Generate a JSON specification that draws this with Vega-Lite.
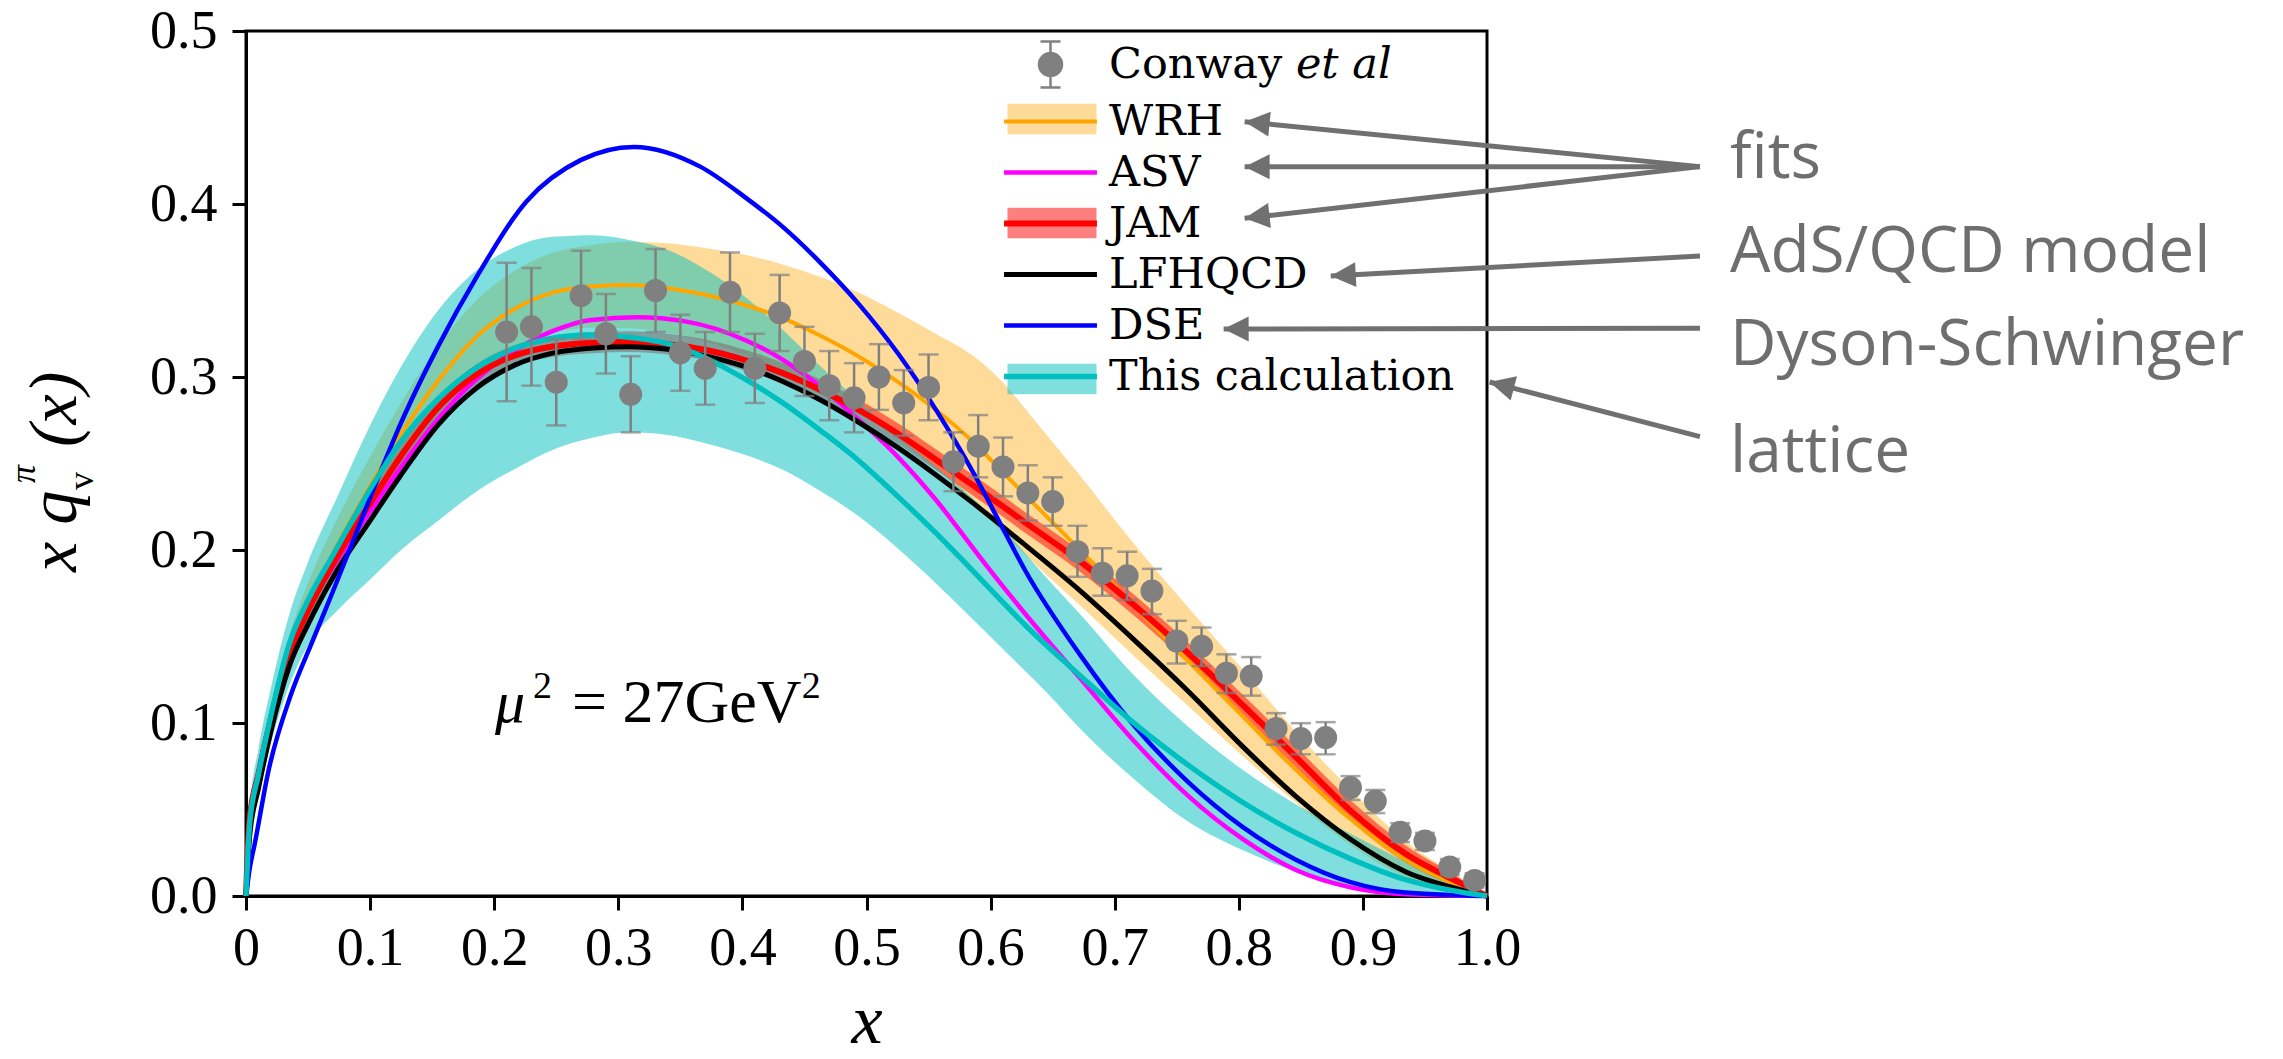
{
  "$schema": "https://vega.github.io/schema/vega-lite/v6.json",
  "width": 1241,
  "height": 865,
  "autosize": {"type": "none"},
  "padding": {"left": 246, "top": 31, "right": 796, "bottom": 163},
  "background": "white",
  "config": {
    "view": {"stroke": "black", "strokeWidth": 3},
    "axis": {"grid": false, "domainColor": "black", "domainWidth": 3, "tickColor": "black", "tickWidth": 3, "tickSize": 14, "labelFont": "Liberation Serif", "labelFontSize": 54, "labelColor": "black", "labelFlush": false, "labelOverlap": false}
  },
  "datasets": {
    "curves": [
      {"series":"WRH","x":0,"y":0},{"series":"WRH","x":0.003,"y":0.04},{"series":"WRH","x":0.01,"y":0.066},{"series":"WRH","x":0.02,"y":0.1},{"series":"WRH","x":0.035,"y":0.14},{"series":"WRH","x":0.05,"y":0.168},{"series":"WRH","x":0.07,"y":0.198},{"series":"WRH","x":0.1,"y":0.237},{"series":"WRH","x":0.124,"y":0.266},{"series":"WRH","x":0.155,"y":0.298},{"series":"WRH","x":0.186,"y":0.3235},{"series":"WRH","x":0.217,"y":0.3396},{"series":"WRH","x":0.247,"y":0.3488},{"series":"WRH","x":0.28,"y":0.3525},{"series":"WRH","x":0.309,"y":0.3532},{"series":"WRH","x":0.34,"y":0.3513},{"series":"WRH","x":0.371,"y":0.3474},{"series":"WRH","x":0.402,"y":0.3416},{"series":"WRH","x":0.433,"y":0.3339},{"series":"WRH","x":0.463,"y":0.3238},{"series":"WRH","x":0.494,"y":0.3117},{"series":"WRH","x":0.525,"y":0.2973},{"series":"WRH","x":0.556,"y":0.2809},{"series":"WRH","x":0.587,"y":0.2617},{"series":"WRH","x":0.608,"y":0.2463},{"series":"WRH","x":0.64,"y":0.223},{"series":"WRH","x":0.672,"y":0.2},{"series":"WRH","x":0.715,"y":0.168},{"series":"WRH","x":0.759,"y":0.136},{"series":"WRH","x":0.803,"y":0.104},{"series":"WRH","x":0.846,"y":0.073},{"series":"WRH","x":0.89,"y":0.0445},{"series":"WRH","x":0.934,"y":0.021},{"series":"WRH","x":0.977,"y":0.006},{"series":"WRH","x":1,"y":0},
      {"series":"ASV","x":0,"y":0},{"series":"ASV","x":0.003,"y":0.045},{"series":"ASV","x":0.01,"y":0.072},{"series":"ASV","x":0.02,"y":0.104},{"series":"ASV","x":0.035,"y":0.142},{"series":"ASV","x":0.05,"y":0.166},{"series":"ASV","x":0.07,"y":0.19},{"series":"ASV","x":0.1,"y":0.222},{"series":"ASV","x":0.124,"y":0.247},{"series":"ASV","x":0.155,"y":0.276},{"series":"ASV","x":0.186,"y":0.299},{"series":"ASV","x":0.217,"y":0.3155},{"series":"ASV","x":0.247,"y":0.3265},{"series":"ASV","x":0.278,"y":0.333},{"series":"ASV","x":0.315,"y":0.3345},{"series":"ASV","x":0.355,"y":0.332},{"series":"ASV","x":0.402,"y":0.3214},{"series":"ASV","x":0.433,"y":0.3098},{"series":"ASV","x":0.463,"y":0.2944},{"series":"ASV","x":0.494,"y":0.2751},{"series":"ASV","x":0.525,"y":0.254},{"series":"ASV","x":0.556,"y":0.2289},{"series":"ASV","x":0.587,"y":0.2},{"series":"ASV","x":0.608,"y":0.1807},{"series":"ASV","x":0.628,"y":0.163},{"series":"ASV","x":0.672,"y":0.126},{"series":"ASV","x":0.715,"y":0.09},{"series":"ASV","x":0.759,"y":0.058},{"series":"ASV","x":0.803,"y":0.033},{"series":"ASV","x":0.846,"y":0.015},{"series":"ASV","x":0.89,"y":0.005},{"series":"ASV","x":0.934,"y":0.001},{"series":"ASV","x":1,"y":0},
      {"series":"JAM","x":0,"y":0},{"series":"JAM","x":0.003,"y":0.045},{"series":"JAM","x":0.01,"y":0.07},{"series":"JAM","x":0.02,"y":0.102},{"series":"JAM","x":0.035,"y":0.14},{"series":"JAM","x":0.05,"y":0.165},{"series":"JAM","x":0.07,"y":0.192},{"series":"JAM","x":0.1,"y":0.227},{"series":"JAM","x":0.124,"y":0.2535},{"series":"JAM","x":0.155,"y":0.2825},{"series":"JAM","x":0.186,"y":0.3015},{"series":"JAM","x":0.217,"y":0.3125},{"series":"JAM","x":0.247,"y":0.3176},{"series":"JAM","x":0.28,"y":0.3198},{"series":"JAM","x":0.309,"y":0.3204},{"series":"JAM","x":0.34,"y":0.319},{"series":"JAM","x":0.371,"y":0.3156},{"series":"JAM","x":0.402,"y":0.3098},{"series":"JAM","x":0.433,"y":0.3021},{"series":"JAM","x":0.463,"y":0.2925},{"series":"JAM","x":0.494,"y":0.2809},{"series":"JAM","x":0.525,"y":0.2674},{"series":"JAM","x":0.556,"y":0.2522},{"series":"JAM","x":0.587,"y":0.2368},{"series":"JAM","x":0.608,"y":0.2262},{"series":"JAM","x":0.628,"y":0.2158},{"series":"JAM","x":0.672,"y":0.1935},{"series":"JAM","x":0.715,"y":0.1685},{"series":"JAM","x":0.759,"y":0.1405},{"series":"JAM","x":0.803,"y":0.1105},{"series":"JAM","x":0.846,"y":0.0803},{"series":"JAM","x":0.89,"y":0.0493},{"series":"JAM","x":0.934,"y":0.0245},{"series":"JAM","x":0.977,"y":0.008},{"series":"JAM","x":1,"y":0},
      {"series":"LFHQCD","x":0,"y":0},{"series":"LFHQCD","x":0.003,"y":0.035},{"series":"LFHQCD","x":0.01,"y":0.062},{"series":"LFHQCD","x":0.02,"y":0.095},{"series":"LFHQCD","x":0.035,"y":0.133},{"series":"LFHQCD","x":0.05,"y":0.157},{"series":"LFHQCD","x":0.07,"y":0.184},{"series":"LFHQCD","x":0.1,"y":0.217},{"series":"LFHQCD","x":0.124,"y":0.2425},{"series":"LFHQCD","x":0.155,"y":0.2725},{"series":"LFHQCD","x":0.186,"y":0.2938},{"series":"LFHQCD","x":0.217,"y":0.307},{"series":"LFHQCD","x":0.247,"y":0.3138},{"series":"LFHQCD","x":0.28,"y":0.3168},{"series":"LFHQCD","x":0.309,"y":0.3175},{"series":"LFHQCD","x":0.34,"y":0.316},{"series":"LFHQCD","x":0.371,"y":0.3121},{"series":"LFHQCD","x":0.402,"y":0.306},{"series":"LFHQCD","x":0.433,"y":0.2973},{"series":"LFHQCD","x":0.463,"y":0.2867},{"series":"LFHQCD","x":0.494,"y":0.2737},{"series":"LFHQCD","x":0.525,"y":0.2593},{"series":"LFHQCD","x":0.556,"y":0.2434},{"series":"LFHQCD","x":0.587,"y":0.2265},{"series":"LFHQCD","x":0.608,"y":0.2145},{"series":"LFHQCD","x":0.628,"y":0.2028},{"series":"LFHQCD","x":0.672,"y":0.1765},{"series":"LFHQCD","x":0.715,"y":0.1485},{"series":"LFHQCD","x":0.759,"y":0.1185},{"series":"LFHQCD","x":0.803,"y":0.0865},{"series":"LFHQCD","x":0.846,"y":0.0576},{"series":"LFHQCD","x":0.89,"y":0.0328},{"series":"LFHQCD","x":0.934,"y":0.0142},{"series":"LFHQCD","x":0.977,"y":0.004},{"series":"LFHQCD","x":1,"y":0},
      {"series":"DSE","x":0,"y":0},{"series":"DSE","x":0.003,"y":0.016},{"series":"DSE","x":0.007,"y":0.03},{"series":"DSE","x":0.018,"y":0.072},{"series":"DSE","x":0.036,"y":0.116},{"series":"DSE","x":0.054,"y":0.148},{"series":"DSE","x":0.07,"y":0.176},{"series":"DSE","x":0.09,"y":0.212},{"series":"DSE","x":0.11,"y":0.248},{"series":"DSE","x":0.124,"y":0.272},{"series":"DSE","x":0.155,"y":0.318},{"series":"DSE","x":0.186,"y":0.358},{"series":"DSE","x":0.226,"y":0.4015},{"series":"DSE","x":0.27,"y":0.4255},{"series":"DSE","x":0.3125,"y":0.433},{"series":"DSE","x":0.366,"y":0.4216},{"series":"DSE","x":0.402,"y":0.404},{"series":"DSE","x":0.433,"y":0.3865},{"series":"DSE","x":0.463,"y":0.366},{"series":"DSE","x":0.494,"y":0.342},{"series":"DSE","x":0.525,"y":0.314},{"series":"DSE","x":0.556,"y":0.281},{"series":"DSE","x":0.587,"y":0.2435},{"series":"DSE","x":0.608,"y":0.215},{"series":"DSE","x":0.628,"y":0.188},{"series":"DSE","x":0.672,"y":0.1395},{"series":"DSE","x":0.715,"y":0.099},{"series":"DSE","x":0.759,"y":0.066},{"series":"DSE","x":0.803,"y":0.04},{"series":"DSE","x":0.846,"y":0.021},{"series":"DSE","x":0.89,"y":0.008},{"series":"DSE","x":0.934,"y":0.002},{"series":"DSE","x":1,"y":0},
      {"series":"This calculation","x":0,"y":0},{"series":"This calculation","x":0.003,"y":0.042},{"series":"This calculation","x":0.01,"y":0.07},{"series":"This calculation","x":0.02,"y":0.104},{"series":"This calculation","x":0.035,"y":0.146},{"series":"This calculation","x":0.05,"y":0.171},{"series":"This calculation","x":0.07,"y":0.197},{"series":"This calculation","x":0.1,"y":0.235},{"series":"This calculation","x":0.124,"y":0.262},{"series":"This calculation","x":0.155,"y":0.2875},{"series":"This calculation","x":0.186,"y":0.3055},{"series":"This calculation","x":0.217,"y":0.3168},{"series":"This calculation","x":0.245,"y":0.3222},{"series":"This calculation","x":0.275,"y":0.3243},{"series":"This calculation","x":0.305,"y":0.3232},{"series":"This calculation","x":0.34,"y":0.3192},{"series":"This calculation","x":0.371,"y":0.3108},{"series":"This calculation","x":0.402,"y":0.2988},{"series":"This calculation","x":0.433,"y":0.2848},{"series":"This calculation","x":0.463,"y":0.269},{"series":"This calculation","x":0.494,"y":0.2515},{"series":"This calculation","x":0.52,"y":0.2345},{"series":"This calculation","x":0.556,"y":0.2097},{"series":"This calculation","x":0.584,"y":0.1892},{"series":"This calculation","x":0.608,"y":0.1712},{"series":"This calculation","x":0.628,"y":0.1565},{"series":"This calculation","x":0.672,"y":0.1275},{"series":"This calculation","x":0.715,"y":0.1002},{"series":"This calculation","x":0.759,"y":0.0758},{"series":"This calculation","x":0.803,"y":0.0542},{"series":"This calculation","x":0.846,"y":0.0365},{"series":"This calculation","x":0.89,"y":0.0215},{"series":"This calculation","x":0.934,"y":0.0095},{"series":"This calculation","x":0.977,"y":0.0025},{"series":"This calculation","x":1,"y":0}
    ],
    "bands": [
      {"band":"WRH band","x":0,"lo":0,"hi":0},{"band":"WRH band","x":0.003,"lo":0.036,"hi":0.044},{"band":"WRH band","x":0.01,"lo":0.059,"hi":0.073},{"band":"WRH band","x":0.02,"lo":0.091,"hi":0.109},{"band":"WRH band","x":0.035,"lo":0.129,"hi":0.151},{"band":"WRH band","x":0.05,"lo":0.155,"hi":0.181},{"band":"WRH band","x":0.07,"lo":0.183,"hi":0.213},{"band":"WRH band","x":0.1,"lo":0.22,"hi":0.254},{"band":"WRH band","x":0.124,"lo":0.248,"hi":0.284},{"band":"WRH band","x":0.155,"lo":0.278,"hi":0.318},{"band":"WRH band","x":0.186,"lo":0.3025,"hi":0.3445},{"band":"WRH band","x":0.217,"lo":0.3176,"hi":0.3616},{"band":"WRH band","x":0.247,"lo":0.3258,"hi":0.3718},{"band":"WRH band","x":0.28,"lo":0.3285,"hi":0.3765},{"band":"WRH band","x":0.309,"lo":0.3282,"hi":0.3782},{"band":"WRH band","x":0.34,"lo":0.3253,"hi":0.3773},{"band":"WRH band","x":0.371,"lo":0.3204,"hi":0.3744},{"band":"WRH band","x":0.402,"lo":0.3126,"hi":0.3706},{"band":"WRH band","x":0.433,"lo":0.3039,"hi":0.3649},{"band":"WRH band","x":0.463,"lo":0.2928,"hi":0.3578},{"band":"WRH band","x":0.494,"lo":0.2797,"hi":0.3487},{"band":"WRH band","x":0.525,"lo":0.2643,"hi":0.3373},{"band":"WRH band","x":0.556,"lo":0.2469,"hi":0.3249},{"band":"WRH band","x":0.587,"lo":0.2267,"hi":0.3117},{"band":"WRH band","x":0.608,"lo":0.2113,"hi":0.2983},{"band":"WRH band","x":0.64,"lo":0.189,"hi":0.271},{"band":"WRH band","x":0.672,"lo":0.168,"hi":0.243},{"band":"WRH band","x":0.715,"lo":0.139,"hi":0.204},{"band":"WRH band","x":0.759,"lo":0.11,"hi":0.167},{"band":"WRH band","x":0.803,"lo":0.081,"hi":0.131},{"band":"WRH band","x":0.846,"lo":0.054,"hi":0.095},{"band":"WRH band","x":0.89,"lo":0.0295,"hi":0.0615},{"band":"WRH band","x":0.934,"lo":0.011,"hi":0.032},{"band":"WRH band","x":0.977,"lo":0.001,"hi":0.011},{"band":"WRH band","x":1,"lo":0,"hi":0},
      {"band":"JAM band","x":0,"lo":0,"hi":0},{"band":"JAM band","x":0.003,"lo":0.042,"hi":0.048},{"band":"JAM band","x":0.01,"lo":0.065,"hi":0.075},{"band":"JAM band","x":0.02,"lo":0.096,"hi":0.108},{"band":"JAM band","x":0.035,"lo":0.134,"hi":0.146},{"band":"JAM band","x":0.05,"lo":0.159,"hi":0.171},{"band":"JAM band","x":0.07,"lo":0.186,"hi":0.198},{"band":"JAM band","x":0.1,"lo":0.221,"hi":0.233},{"band":"JAM band","x":0.124,"lo":0.2475,"hi":0.2595},{"band":"JAM band","x":0.155,"lo":0.2765,"hi":0.2885},{"band":"JAM band","x":0.186,"lo":0.2955,"hi":0.3075},{"band":"JAM band","x":0.217,"lo":0.3065,"hi":0.3185},{"band":"JAM band","x":0.247,"lo":0.3116,"hi":0.3236},{"band":"JAM band","x":0.28,"lo":0.3138,"hi":0.3258},{"band":"JAM band","x":0.309,"lo":0.3144,"hi":0.3264},{"band":"JAM band","x":0.34,"lo":0.313,"hi":0.325},{"band":"JAM band","x":0.371,"lo":0.3096,"hi":0.3216},{"band":"JAM band","x":0.402,"lo":0.3038,"hi":0.3158},{"band":"JAM band","x":0.433,"lo":0.2961,"hi":0.3081},{"band":"JAM band","x":0.463,"lo":0.2865,"hi":0.2985},{"band":"JAM band","x":0.494,"lo":0.2749,"hi":0.2869},{"band":"JAM band","x":0.525,"lo":0.2614,"hi":0.2734},{"band":"JAM band","x":0.556,"lo":0.2462,"hi":0.2582},{"band":"JAM band","x":0.587,"lo":0.2308,"hi":0.2428},{"band":"JAM band","x":0.608,"lo":0.2202,"hi":0.2322},{"band":"JAM band","x":0.628,"lo":0.2098,"hi":0.2218},{"band":"JAM band","x":0.672,"lo":0.1875,"hi":0.1995},{"band":"JAM band","x":0.715,"lo":0.1625,"hi":0.1745},{"band":"JAM band","x":0.759,"lo":0.1345,"hi":0.1465},{"band":"JAM band","x":0.803,"lo":0.1045,"hi":0.1165},{"band":"JAM band","x":0.846,"lo":0.0743,"hi":0.0863},{"band":"JAM band","x":0.89,"lo":0.0433,"hi":0.0553},{"band":"JAM band","x":0.934,"lo":0.0195,"hi":0.0295},{"band":"JAM band","x":0.977,"lo":0.005,"hi":0.011},{"band":"JAM band","x":1,"lo":0,"hi":0},
      {"band":"This calculation band","x":0,"lo":0,"hi":0},{"band":"This calculation band","x":0.003,"lo":0.035,"hi":0.05},{"band":"This calculation band","x":0.01,"lo":0.058,"hi":0.085},{"band":"This calculation band","x":0.02,"lo":0.088,"hi":0.12},{"band":"This calculation band","x":0.035,"lo":0.122,"hi":0.163},{"band":"This calculation band","x":0.05,"lo":0.145,"hi":0.193},{"band":"This calculation band","x":0.075,"lo":0.166,"hi":0.233},{"band":"This calculation band","x":0.1,"lo":0.183,"hi":0.272},{"band":"This calculation band","x":0.125,"lo":0.2,"hi":0.306},{"band":"This calculation band","x":0.155,"lo":0.217,"hi":0.3387},{"band":"This calculation band","x":0.186,"lo":0.234,"hi":0.3618},{"band":"This calculation band","x":0.217,"lo":0.247,"hi":0.3753},{"band":"This calculation band","x":0.247,"lo":0.2578,"hi":0.381},{"band":"This calculation band","x":0.28,"lo":0.265,"hi":0.382},{"band":"This calculation band","x":0.309,"lo":0.268,"hi":0.3792},{"band":"This calculation band","x":0.34,"lo":0.2665,"hi":0.3734},{"band":"This calculation band","x":0.371,"lo":0.2616,"hi":0.3618},{"band":"This calculation band","x":0.402,"lo":0.255,"hi":0.3464},{"band":"This calculation band","x":0.433,"lo":0.2462,"hi":0.327},{"band":"This calculation band","x":0.463,"lo":0.234,"hi":0.306},{"band":"This calculation band","x":0.494,"lo":0.2193,"hi":0.286},{"band":"This calculation band","x":0.525,"lo":0.201,"hi":0.266},{"band":"This calculation band","x":0.556,"lo":0.1807,"hi":0.248},{"band":"This calculation band","x":0.587,"lo":0.159,"hi":0.229},{"band":"This calculation band","x":0.608,"lo":0.1441,"hi":0.214},{"band":"This calculation band","x":0.65,"lo":0.114,"hi":0.18},{"band":"This calculation band","x":0.672,"lo":0.0968,"hi":0.163},{"band":"This calculation band","x":0.715,"lo":0.0679,"hi":0.128},{"band":"This calculation band","x":0.759,"lo":0.0431,"hi":0.098},{"band":"This calculation band","x":0.803,"lo":0.0266,"hi":0.073},{"band":"This calculation band","x":0.846,"lo":0.0142,"hi":0.053},{"band":"This calculation band","x":0.89,"lo":0.006,"hi":0.036},{"band":"This calculation band","x":0.934,"lo":0.002,"hi":0.02},{"band":"This calculation band","x":0.977,"lo":0.0003,"hi":0.005},{"band":"This calculation band","x":1,"lo":0,"hi":0}
    ],
    "conway": [
      {"x":0.21,"y":0.326,"lo":0.286,"hi":0.366},{"x":0.23,"y":0.329,"lo":0.295,"hi":0.363},{"x":0.25,"y":0.297,"lo":0.272,"hi":0.322},{"x":0.27,"y":0.347,"lo":0.322,"hi":0.373},{"x":0.29,"y":0.325,"lo":0.302,"hi":0.348},{"x":0.31,"y":0.29,"lo":0.268,"hi":0.312},{"x":0.33,"y":0.35,"lo":0.326,"hi":0.374},{"x":0.35,"y":0.314,"lo":0.292,"hi":0.336},{"x":0.37,"y":0.305,"lo":0.284,"hi":0.326},{"x":0.39,"y":0.349,"lo":0.326,"hi":0.372},{"x":0.41,"y":0.305,"lo":0.285,"hi":0.325},{"x":0.43,"y":0.337,"lo":0.315,"hi":0.359},{"x":0.45,"y":0.309,"lo":0.289,"hi":0.329},{"x":0.47,"y":0.295,"lo":0.275,"hi":0.315},{"x":0.49,"y":0.288,"lo":0.268,"hi":0.308},{"x":0.51,"y":0.3,"lo":0.281,"hi":0.319},{"x":0.53,"y":0.285,"lo":0.266,"hi":0.304},{"x":0.55,"y":0.294,"lo":0.275,"hi":0.313},{"x":0.57,"y":0.251,"lo":0.234,"hi":0.268},{"x":0.59,"y":0.26,"lo":0.242,"hi":0.278},{"x":0.61,"y":0.248,"lo":0.231,"hi":0.265},{"x":0.63,"y":0.233,"lo":0.217,"hi":0.249},{"x":0.65,"y":0.228,"lo":0.214,"hi":0.242},{"x":0.67,"y":0.199,"lo":0.1845,"hi":0.214},{"x":0.69,"y":0.1866,"lo":0.1736,"hi":0.201},{"x":0.71,"y":0.1851,"lo":0.1711,"hi":0.199},{"x":0.73,"y":0.1763,"lo":0.1629,"hi":0.1891},{"x":0.75,"y":0.1474,"lo":0.1344,"hi":0.1591},{"x":0.77,"y":0.1443,"lo":0.1329,"hi":0.1552},{"x":0.79,"y":0.1288,"lo":0.1174,"hi":0.1397},{"x":0.81,"y":0.1271,"lo":0.1158,"hi":0.1381},{"x":0.83,"y":0.0968,"lo":0.0875,"hi":0.1057},{"x":0.85,"y":0.091,"lo":0.0819,"hi":0.0999},{"x":0.87,"y":0.0916,"lo":0.0819,"hi":0.1005},{"x":0.89,"y":0.0627,"lo":0.0555,"hi":0.0693},{"x":0.91,"y":0.0549,"lo":0.0479,"hi":0.0613},{"x":0.93,"y":0.0369,"lo":0.0312,"hi":0.0421},{"x":0.95,"y":0.0318,"lo":0.0266,"hi":0.0365},{"x":0.97,"y":0.0167,"lo":0.0121,"hi":0.0214},{"x":0.99,"y":0.009,"lo":0.0049,"hi":0.0131}
    ],
    "arrows": [
      {"x":1.1716,"y":0.4216,"xe":0.8047,"ye":0.4476},
      {"x":1.1716,"y":0.4216,"xe":0.8047,"ye":0.4216},
      {"x":1.1716,"y":0.4216,"xe":0.8047,"ye":0.3917},
      {"x":1.1716,"y":0.3699,"xe":0.8741,"ye":0.3584},
      {"x":1.1716,"y":0.3282,"xe":0.7878,"ye":0.3277},
      {"x":1.1716,"y":0.2655,"xe":1.0021,"ye":0.2971}
    ],
    "notes": [
      {"t":"fits","x":1.1958,"y":0.415},
      {"t":"AdS/QCD model","x":1.1958,"y":0.3607},
      {"t":"Dyson-Schwinger","x":1.1958,"y":0.3069},
      {"t":"lattice","x":1.1958,"y":0.2451}
    ],
    "mathtext": [
      {"k":"main","t":"x q","x":-0.137,"y":0.1873},
      {"k":"sup","t":"π","x":-0.17,"y":0.2387},
      {"k":"sub","t":"v","x":-0.1233,"y":0.2347},
      {"k":"main","t":"(x)","x":-0.137,"y":0.2595},
      {"k":"mu","t":"μ","x":0.2006,"y":0.1006},
      {"k":"pow","t":"2","x":0.2313,"y":0.1145},
      {"k":"eq","t":"= 27GeV","x":0.2627,"y":0.1006},
      {"k":"pow","t":"2","x":0.4478,"y":0.1145}
    ]
  },
  "encoding": {
    "x": {"field": "x", "type": "quantitative", "title": "x", "scale": {"domain": [0, 1], "nice": false, "zero": false},
      "axis": {"values": [0, 0.1, 0.2, 0.3, 0.4, 0.5, 0.6, 0.7, 0.8, 0.9, 1.0], "labelExpr": "datum.value === 0 ? '0' : format(datum.value, '.1f')", "labelPadding": 11, "titleFont": "Liberation Serif", "titleFontStyle": "italic", "titleFontWeight": "normal", "titleFontSize": 70, "titleColor": "black", "titleY": 146, "titleBaseline": "alphabetic"}},
    "y": {"field": "y", "type": "quantitative", "title": null, "scale": {"domain": [0, 0.5], "nice": false, "zero": false},
      "axis": {"values": [0, 0.1, 0.2, 0.3, 0.4, 0.5], "format": ".1f", "labelPadding": 15}}
  },
  "layer": [
    {
      "data": {"name": "bands"},
      "transform": [{"filter": "datum.band === 'WRH band'"}],
      "mark": {"type": "area", "interpolate": "monotone"},
      "encoding": {
        "y": {"field": "hi", "type": "quantitative", "title": null},
        "y2": {"field": "lo"},
        "fill": {"field": "band", "type": "nominal",
          "scale": {"domain": ["Conway et al band", "WRH band", "ASV band", "JAM band", "LFHQCD band", "DSE band", "This calculation band"],
                    "range": ["rgba(0,0,0,0)", "rgba(255,165,0,0.4)", "rgba(0,0,0,0)", "rgba(255,0,0,0.5)", "rgba(0,0,0,0)", "rgba(0,0,0,0)", "rgba(0,191,191,0.5)"]},
          "legend": {"orient": "none", "legendX": 759.5, "legendY": 12, "title": null, "padding": 0,
            "symbolSize": 2116, "symbolStrokeWidth": 0, "symbolOffset": 23.5,
            "labelFont": "DejaVu Serif", "labelFontSize": 43, "labelOffset": 37, "labelLimit": 0, "labelColor": "rgba(0,0,0,0)", "rowPadding": 7,
            "labelExpr": "'\u00a0'",
            "encoding": {"symbols": {
              "shape": {"value": {"expr": "datum.value === 'Conway et al band' ? 'M-0.435,-1L0.435,-1M0,-1L0,1M-0.435,1L0.435,1M0.5,0A0.5,0.5,0,1,1,-0.5,0A0.5,0.5,0,1,1,0.5,0Z' : 'M-1.935,-0.665L1.935,-0.665L1.935,0.665L-1.935,0.665Z'"}}
            }}}}
      }
    },
    {
      "data": {"name": "bands"},
      "transform": [{"filter": "datum.band === 'JAM band'"}],
      "mark": {"type": "area", "interpolate": "monotone"},
      "encoding": {
        "y": {"field": "hi", "type": "quantitative", "title": null},
        "y2": {"field": "lo"},
        "fill": {"field": "band", "type": "nominal"}
      }
    },
    {
      "data": {"name": "bands"},
      "transform": [{"filter": "datum.band === 'This calculation band'"}],
      "mark": {"type": "area", "interpolate": "monotone"},
      "encoding": {
        "y": {"field": "hi", "type": "quantitative", "title": null},
        "y2": {"field": "lo"},
        "fill": {"field": "band", "type": "nominal"}
      }
    },
    {
      "data": {"name": "curves"},
      "transform": [{"filter": "datum.series === 'WRH'"}],
      "mark": {"type": "line", "interpolate": "monotone", "strokeWidth": 4},
      "encoding": {
        "stroke": {"field": "series", "type": "nominal",
          "scale": {"domain": ["Conway et al", "WRH", "ASV", "JAM", "LFHQCD", "DSE", "This calculation"],
                    "range": ["#808080", "#FFA500", "#FF00FF", "#FF0000", "#000000", "#0000FF", "#00BFBF"]},
          "legend": {"orient": "none", "legendX": 759.5, "legendY": 12, "title": null, "padding": 0,
            "symbolSize": 2116, "symbolStrokeWidth": 0, "symbolOffset": 23.5,
            "labelFont": "DejaVu Serif", "labelFontSize": 43, "labelColor": "black", "labelOffset": 37, "labelLimit": 0, "rowPadding": 7,
            "labelExpr": "datum.label === 'Conway et al' ? 'Conway 𝑒𝑡 𝑎𝑙' : datum.label",
            "encoding": {"symbols": {
              "shape": {"value": {"expr": "datum.value === 'Conway et al' ? 'M-0.435,-1L0.435,-1M0,-1L0,1M-0.435,1L0.435,1M0.5,0A0.5,0.5,0,1,1,-0.5,0A0.5,0.5,0,1,1,0.5,0Z' : 'M-2.02,0L2.02,0'"}},
              "fill": {"value": {"expr": "datum.value === 'Conway et al' ? '#808080' : 'rgba(0,0,0,0)'"}},
              "strokeWidth": {"value": {"expr": "datum.value === 'Conway et al' ? 2.5 : datum.value === 'JAM' ? 6 : datum.value === 'LFHQCD' ? 5 : datum.value === 'This calculation' ? 5.3 : datum.value === 'WRH' ? 4 : 4.5"}}
            }}}}
      }
    },
    {
      "data": {"name": "curves"},
      "transform": [{"filter": "datum.series === 'ASV'"}],
      "mark": {"type": "line", "interpolate": "monotone", "strokeWidth": 4.5},
      "encoding": {"stroke": {"field": "series", "type": "nominal"}}
    },
    {
      "data": {"name": "curves"},
      "transform": [{"filter": "datum.series === 'JAM'"}],
      "mark": {"type": "line", "interpolate": "monotone", "strokeWidth": 6},
      "encoding": {"stroke": {"field": "series", "type": "nominal"}}
    },
    {
      "data": {"name": "curves"},
      "transform": [{"filter": "datum.series === 'LFHQCD'"}],
      "mark": {"type": "line", "interpolate": "monotone", "strokeWidth": 5},
      "encoding": {"stroke": {"field": "series", "type": "nominal"}}
    },
    {
      "data": {"name": "curves"},
      "transform": [{"filter": "datum.series === 'DSE'"}],
      "mark": {"type": "line", "interpolate": "monotone", "strokeWidth": 4.5},
      "encoding": {"stroke": {"field": "series", "type": "nominal"}}
    },
    {
      "data": {"name": "curves"},
      "transform": [{"filter": "datum.series === 'This calculation'"}],
      "mark": {"type": "line", "interpolate": "monotone", "strokeWidth": 5.3},
      "encoding": {"stroke": {"field": "series", "type": "nominal"}}
    },
    {
      "data": {"name": "conway"},
      "mark": {"type": "errorbar", "color": "#808080", "thickness": 2.5, "ticks": {"size": 20}},
      "encoding": {
        "y": {"field": "lo", "type": "quantitative", "title": null},
        "y2": {"field": "hi"}
      }
    },
    {
      "data": {"name": "conway"},
      "mark": {"type": "point", "filled": true, "color": "#808080", "size": 529, "opacity": 1}
    },
    {
      "data": {"name": "arrows"},
      "mark": {"type": "rule", "color": "#707070", "strokeWidth": 5},
      "encoding": {
        "x2": {"field": "xe"},
        "y2": {"field": "ye"}
      }
    },
    {
      "data": {"name": "arrows"},
      "transform": [{"calculate": "atan2(-(datum.ye - datum.y) * 1730, (datum.xe - datum.x) * 1241) * 180 / PI", "as": "ang"}],
      "mark": {"type": "point", "shape": "M0,0L-2,-1L-2,1Z", "filled": true, "color": "#707070", "size": 625, "opacity": 1},
      "encoding": {
        "x": {"field": "xe", "type": "quantitative"},
        "y": {"field": "ye", "type": "quantitative"},
        "angle": {"field": "ang", "type": "quantitative", "scale": null}
      }
    },
    {
      "data": {"name": "notes"},
      "mark": {"type": "text", "font": "Open Sans", "fontSize": 64, "color": "#6e6e6e", "align": "left", "baseline": "alphabetic"},
      "encoding": {"text": {"field": "t"}}
    },
    {
      "data": {"name": "mathtext"},
      "transform": [{"filter": "datum.k === 'main'"}],
      "mark": {"type": "text", "font": "Liberation Serif", "fontStyle": "italic", "fontSize": 68, "color": "black", "angle": 270, "align": "left", "baseline": "alphabetic"},
      "encoding": {"text": {"field": "t"}}
    },
    {
      "data": {"name": "mathtext"},
      "transform": [{"filter": "datum.k === 'sup'"}],
      "mark": {"type": "text", "font": "Liberation Serif", "fontStyle": "italic", "fontSize": 36, "color": "black", "angle": 270, "align": "left", "baseline": "alphabetic"},
      "encoding": {"text": {"field": "t"}}
    },
    {
      "data": {"name": "mathtext"},
      "transform": [{"filter": "datum.k === 'sub'"}],
      "mark": {"type": "text", "font": "Liberation Serif", "fontSize": 36, "color": "black", "angle": 270, "align": "left", "baseline": "alphabetic"},
      "encoding": {"text": {"field": "t"}}
    },
    {
      "data": {"name": "mathtext"},
      "transform": [{"filter": "datum.k === 'mu'"}],
      "mark": {"type": "text", "font": "Liberation Serif", "fontStyle": "italic", "fontSize": 60, "color": "black", "align": "left", "baseline": "alphabetic"},
      "encoding": {"text": {"field": "t"}}
    },
    {
      "data": {"name": "mathtext"},
      "transform": [{"filter": "datum.k === 'pow'"}],
      "mark": {"type": "text", "font": "Liberation Serif", "fontSize": 38, "color": "black", "align": "left", "baseline": "alphabetic"},
      "encoding": {"text": {"field": "t"}}
    },
    {
      "data": {"name": "mathtext"},
      "transform": [{"filter": "datum.k === 'eq'"}],
      "mark": {"type": "text", "font": "Liberation Serif", "fontSize": 62, "color": "black", "align": "left", "baseline": "alphabetic"},
      "encoding": {"text": {"field": "t"}}
    }
  ]
}
